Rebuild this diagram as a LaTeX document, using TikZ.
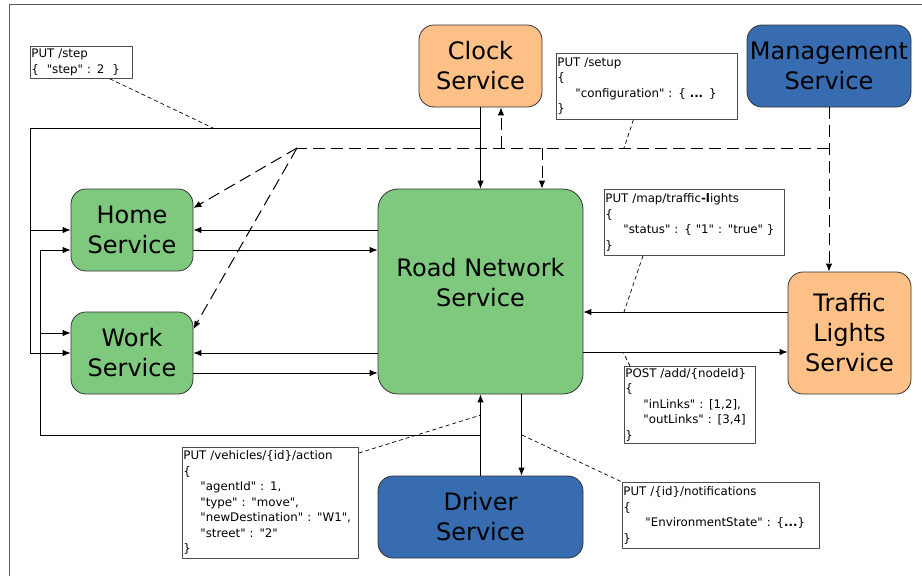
\documentclass[tikz,border=0pt]{standalone}
\usepackage{fontspec}
\setmainfont{DejaVu Sans}
\newfontfamily\jsonfont{DejaVu Sans}
\usetikzlibrary{arrows.meta}
\definecolor{svcgreen}{HTML}{7FC97F}
\definecolor{svcorange}{HTML}{FDC086}
\definecolor{svcblue}{HTML}{386CB0}
\tikzset{
  svc/.style={draw=black!80,line width=0.8pt,rounded corners=15pt,inner sep=0pt,align=center,font=\fontsize{24}{30}\selectfont},
  jsonbox/.style={draw=black!70,line width=0.8pt,fill=white,anchor=north west,align=left,inner xsep=1pt,inner ysep=0pt,font=\jsonfont\fontsize{11.8}{15.5}\selectfont},
  call/.style={line width=0.9pt},
  mgmtcall/.style={line width=1pt,dash pattern=on 12pt off 6pt},
  noteline/.style={line width=0.7pt,dash pattern=on 4pt off 3pt},
}
\begin{document}
\begin{tikzpicture}[x=1pt,y=-1pt,>={Latex[length=8pt,width=6.5pt]},line join=bevel,]
\useasboundingbox (0,0) rectangle (922,576);
\draw [black!65,line width=1pt] (9.5,576) -- (9.5,4.5) -- (922,4.5);
%%
\node (clock) at (480.5,66) [svc,fill=svcorange,minimum width=123pt,minimum height=82pt] {Clock\\Service};
  \node (mgmt) at (829,66) [svc,fill=svcblue,minimum width=164pt,minimum height=82pt] {Management\\Service};
  \node (home) at (132,230) [svc,fill=svcgreen,minimum width=122pt,minimum height=82pt] {Home\\Service};
  \node (work) at (132,353) [svc,fill=svcgreen,minimum width=122pt,minimum height=82pt] {Work\\Service};
  \node (road) at (480.5,291.5) [svc,fill=svcgreen,rounded corners=20pt,minimum width=205pt,minimum height=205pt,text depth=18pt] {Road Network\\Service};
  \node (traffic) at (849.5,333) [svc,fill=svcorange,minimum width=123pt,minimum height=122pt] {Traffic\\Lights\\Service};
  \node (driver) at (480.5,517) [svc,fill=svcblue,minimum width=205pt,minimum height=82pt] {Driver\\Service};
%%
\coordinate (clocktap) at (480.5,128);
  \coordinate (leftbus) at (30,128);
  \coordinate (drivertap) at (480.5,435);
  \coordinate (lowbus) at (40,435);
  \coordinate (homein) at ([yshift=-20pt]home.west);
  \coordinate (homeout) at ([yshift=-20pt]home.east);
  \coordinate (workin) at ([yshift=20pt]work.west);
  \coordinate (workout) at ([yshift=-20pt]work.east);
  \coordinate (tlout) at ([yshift=21pt]traffic.west);
  \coordinate (tlin) at ([yshift=-19pt]traffic.west);
  \coordinate (mgmtbend) at (829,148);
  \coordinate (fan) at (297,148);
  \coordinate (clockret) at (501,148);
  \coordinate (roadcfg) at (542,148);
%%
\draw [call,->] (clock) -- (road);
  \draw [call] (clock.south) -- (clocktap) -- (leftbus);
  \draw [call,->] (leftbus) |- (home);
  \draw [call,->] (leftbus) |- (work);
  \draw [call,->] (road.west |- home) -- (home);
  \draw [call,->] (homeout) -- (road.west |- homeout);
  \draw [call,->] (road.west |- work) -- (work);
  \draw [call,->] (workout) -- (road.west |- workout);
  \draw [call,->] (driver) -- (road);
  \draw [call] (drivertap) -- (lowbus);
  \draw [call,->] (lowbus) |- (homein);
  \draw [call,->] (lowbus) |- (workin);
  \draw [call,->] ([xshift=41pt]road.south) -- ([xshift=41pt]driver.north);
  \draw [call,->] (tlout) -- (road.east |- tlout);
  \draw [call,->] (road.east |- tlin) -- (tlin);
%
\draw [mgmtcall,->] (mgmt.south) -- (mgmt.south |- traffic.north);
  \draw [mgmtcall] (mgmtbend) -- (fan);
  \draw [mgmtcall,->] (fan) -- ([yshift=22pt]home.east);
  \draw [mgmtcall,->] (fan) -- ([yshift=24pt]work.east);
  \draw [mgmtcall,->] (clockret) -- (clockret |- clock.south);
  \draw [mgmtcall,->] (roadcfg) -- (roadcfg |- road.north);
%%
\node (stepnote) at (30,46) [jsonbox,text width=100pt,minimum height=32pt] {PUT /step\\\{\ \ "step" : 2\ \ \}};
  \node (setupnote) at (556,53) [jsonbox,text width=179pt,minimum height=66pt] {PUT /setup\\\{\\\hspace*{18pt}"configuration" : \{ \textbf{...} \}\\\}};
  \node (tlnote) at (604,189) [jsonbox,text width=178pt,minimum height=66pt] {PUT /map/traffic\textbf{-l}ights\\\{\\\hspace*{18pt}"status" : \{ "1" : "true" \}\\\}};
  \node (postnote) at (624,366) [jsonbox,text width=129pt,minimum height=77pt] {\mbox{POST /add/\{nodeId\}}\\\{\\\hspace*{18pt}"inLinks" : [1,2],\\\hspace*{18pt}"outLinks" : [3,4]\\\}};
  \node (notifnote) at (622,482) [jsonbox,text width=195pt,minimum height=66pt] {PUT /\{id\}/notifications\\\{\\\hspace*{22pt}"EnvironmentState" : \{\textbf{...}\}\\\}};
  \node (vehnote) at (182,447) [jsonbox,text width=174pt,minimum height=111pt] {PUT /vehicles/\{id\}/action\\\{\\\hspace*{17pt}"agentId" : 1,\\\hspace*{17pt}"type" : "move",\\\hspace*{17pt}"newDestination" : "W1",\\\hspace*{17pt}"street" : "2"\\\}};
%
\coordinate (stepend) at (213,128);
  \coordinate (setupend) at (624,148);
  \coordinate (tlend) at (624,312);
  \coordinate (postend) at (623,352);
  \coordinate (vehend) at (481,415);
  \coordinate (notifend) at (522,435);
  \draw [noteline] (stepnote.-30) -- (stepend);
  \draw [noteline] (setupnote.-112) -- (setupend);
  \draw [noteline] (tlnote.-147) -- (tlend);
  \draw [noteline] ([xshift=6pt]postnote.north west) -- (postend);
  \draw [noteline] ([yshift=-6pt]vehnote.north east) -- (vehend);
  \draw [noteline] (notifend) -- (notifnote.north west);
%
\end{tikzpicture}
\end{document}
